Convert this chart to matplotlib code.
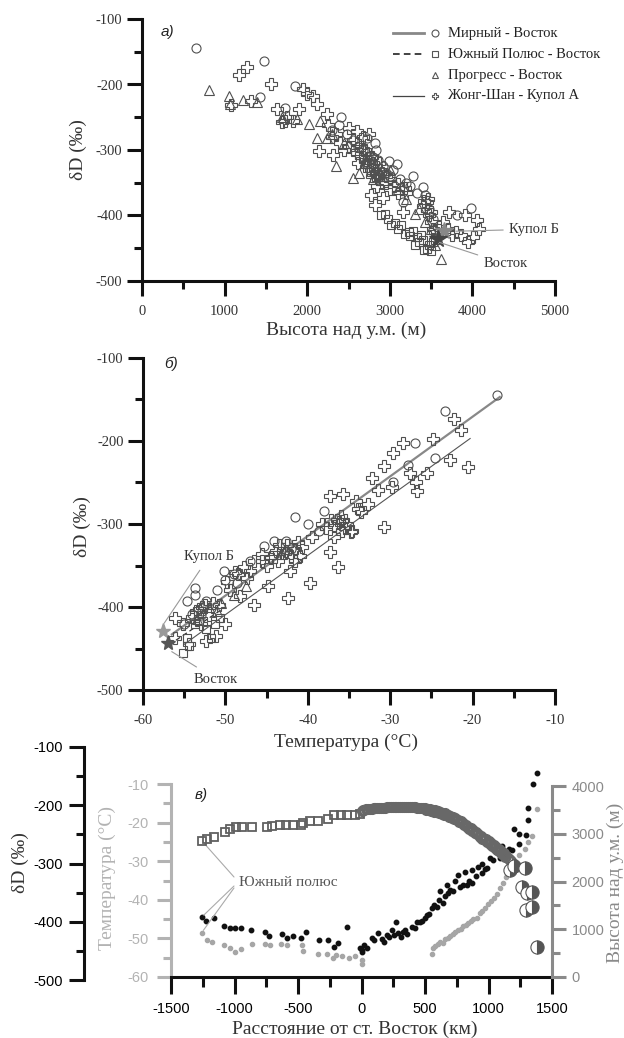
import matplotlib
matplotlib.use('Agg')
import matplotlib.pyplot as plt
from matplotlib.transforms import blended_transform_factory
from matplotlib.ticker import MultipleLocator

SERIF = ['Liberation Serif', 'DejaVu Serif']
SANS = ['Liberation Sans', 'DejaVu Sans']
plt.rcParams['font.family'] = SERIF
plt.rcParams['axes.unicode_minus'] = False

# ---------------- DATA ----------------
legend_labels = ['Мирный - Восток', 'Южный Полюс - Восток', 'Прогресс - Восток', 'Жонг-Шан - Купол А']

# panel a: altitude (m) vs dD
a_mirny_alt = [653, 1481, 1428, 1733, 1854, 2410, 2725, 2822, 2991, 3088, 3282, 3403, 3427, 3160, 3983, 3814,
               2480, 2550, 2620, 2680, 2740, 2790, 2860, 2920, 2960, 3040, 3120, 3200, 3250, 3330, 3470, 3520, 2300,
               2380, 2700, 2800, 2880, 2760, 2830, 3000]
a_mirny_dD = [-145, -164, -219, -236, -202, -249, -281, -290, -317, -322, -340, -356, -369, -379, -389, -400,
              -275, -285, -295, -300, -310, -320, -315, -325, -335, -330, -345, -350, -355, -365, -390, -405, -270,
              -262, -320, -310, -340, -330, -300, -340]
a_sp_alt = [2894, 2943, 3064, 3136, 3233, 3282, 3330, 3403, 3451, 3500, 3548, 3100, 3180, 3250, 3350, 3380, 3470,
            3420, 2980, 3020, 3300, 3520]
a_sp_dD = [-400, -397, -412, -415, -425, -423, -433, -438, -451, -454, -438, -420, -428, -432, -440, -430, -445,
           -452, -405, -415, -445, -440]
a_pr_alt = [813, 1055, 1224, 1394, 1878, 2023, 2120, 2241, 2352, 2555, 2628, 3306, 3621, 3427, 2150, 2300, 2450,
            2700, 2800, 2900, 3000, 3100, 3200, 3350, 3500, 3550, 1060, 1700]
a_pr_dD = [-208, -218, -224, -227, -253, -261, -281, -281, -325, -343, -335, -397, -466, -410, -255, -275, -290,
           -320, -345, -340, -330, -360, -375, -390, -420, -445, -230, -250]
a_zs_alt = [1273, 1176, 1079, 1321, 1563, 1636, 1902, 1733, 1830, 1950, 2000, 2072, 2120, 2241, 2144, 2313, 2507,
            2604, 2773, 2822, 2919, 3160, 3185, 3572, 3717, 3862, 4007, 4056, 3910, 4080, 2250, 2300, 2350, 2400,
            2450, 2500, 2550, 2600, 2650, 2700, 2720, 2750, 2780, 2800, 2830, 2860, 2880, 2900, 2950, 3000, 3050,
            3100, 3150, 3200, 3400, 3450, 3480, 3500, 3520, 3550, 3600, 3650, 3700, 3750, 3800, 3950, 3420, 3460,
            2680, 2750, 1750, 1700,
            2600, 2650, 2700, 2750, 2800, 2820, 2850, 2870, 2900, 2780, 2720, 2680, 2950, 3000, 2560, 2620, 2850,
            3100, 3450, 3500]
a_zs_dD = [-173, -186, -232, -225, -199, -237, -237, -255, -255, -207, -215, -217, -230, -245, -302, -307, -266,
           -271, -369, -384, -374, -394, -358, -430, -394, -430, -433, -407, -400, -420, -262, -280, -275, -290,
           -300, -295, -285, -305, -310, -300, -325, -330, -340, -320, -335, -345, -330, -350, -340, -345, -355,
           -352, -360, -365, -385, -392, -400, -410, -420, -425, -418, -410, -420, -430, -425, -440, -378, -375,
           -280, -275, -250, -258,
           -290, -295, -315, -318, -330, -325, -340, -320, -335, -310, -305, -300, -350, -360, -300, -320, -355,
           -365, -380, -395]
a_domeb = (3660, -424)
a_vostok = (3580, -436)

# panel b: temperature (°C) vs dD
b_mirny_T = [-17.0, -23.4, -27.0, -27.8, -24.6, -29.6, -38.0, -41.6, -42.7, -44.1, -45.3, -38.7, -50.2, -50.0,
             -53.7, -53.7, -48.6, -54.7, -52.3, -52.8, -54.0, -40.0, -42.0, -47.0, -49.0, -51.0, -55.0, -53.0]
b_mirny_dD = [-144, -164, -202, -229, -220, -250, -284, -291, -321, -320, -326, -308, -357, -367, -377, -385, -371,
              -393, -393, -405, -409, -300, -330, -345, -360, -380, -420, -410]
b_sp_T = [-55.2, -54.4, -53.7, -53.2, -52.3, -51.3, -51.8, -50.6, -54.7]
b_sp_dD = [-456, -447, -421, -417, -427, -421, -437, -413, -437]
b_pr_T = [-50.5, -52.0, -49.0, -53.5, -51.0, -47.5]
b_pr_dD = [-395, -400, -385, -415, -405, -375]
b_zs_T = [-22.2, -21.4, -24.8, -22.8, -20.6, -28.4, -29.6, -30.8, -32.2, -31.5, -27.6, -26.9, -25.5, -26.7, -29.8,
          -32.7, -33.9, -37.3, -35.7, -34.1, -30.8, -34.6, -35.8, -36.8, -36.3, -37.3, -35.8, -38.3, -39.5, -39.7,
          -42.4, -42.1, -40.7, -46.5, -44.8, -50.1, -56.1, -55.2, -56.1, -54.4, -52.3, -51.1, -48.2, -46.5, -45.5,
          -43.6, -41.6, -42.6, -47.0, -47.4, -49.4, -43.5, -42.8, -41.5, -40.9, -44.0, -36.5, -35.2, -34.8, -36.0,
          -37.8, -33.5, -48.5, -49.8, -51.5, -52.8, -53.6, -50.8, -53.0, -45.0,
          -43.0, -42.5, -43.8, -44.5, -42.0, -41.2, -45.5, -36.2, -35.5, -36.8, -37.2, -47.8, -48.8, -52.5, -53.2,
          -52.0, -54.0]
b_zs_dD = [-174, -187, -198, -223, -231, -203, -215, -230, -245, -259, -239, -249, -238, -260, -255, -276, -282,
           -266, -264, -272, -304, -308, -308, -316, -352, -334, -296, -300, -316, -371, -389, -357, -328, -397,
           -375, -421, -413, -421, -437, -445, -441, -435, -387, -344, -336, -344, -344, -332, -357, -365, -379,
           -325, -335, -330, -338, -340, -295, -300, -310, -290, -305, -285, -360, -370, -395, -400, -405, -398,
           -420, -350,
           -330, -325, -333, -340, -338, -322, -345, -298, -305, -302, -295, -352, -358, -398, -402, -410, -412]
b_fit_mirny_T = [-56.5, -16.7]
b_fit_mirny_dD = [-433, -147]
b_fit_sp_T = [-56.0, -50.0]
b_fit_sp_dD = [-440, -400]
b_fit_zs_T = [-55.0, -20.3]
b_fit_zs_dD = [-445, -197]
b_domeb = (-57.6, -429)
b_vostok = (-57.0, -443)

# panel c: distance from Vostok (km)
c_sp_dist = [-1258, -1214, -1161, -1075, -1035, -988, -944, -865, -747, -707, -642, -594, -537, -479, -463, -405,
             -340, -261, -217, -164, -112, -51, -12]
c_sp_alt = [2855, 2883, 2938, 3043, 3093, 3135, 3135, 3135, 3135, 3162, 3176, 3176, 3176, 3190, 3218, 3260, 3273,
            3302, 3386, 3386, 3386, 3386, 3413]
c_vm_dist = [0, 10, 20, 35, 50, 65, 80, 95, 110, 125, 140, 155, 170, 185, 200, 215, 230, 245, 260, 275, 290, 305,
             320, 335, 350, 365, 380, 395, 410, 425, 440, 455, 470, 485, 500, 520, 540, 560, 580, 600, 620, 640,
             660, 680, 700, 720, 740, 760, 780, 800, 820, 840, 860, 880, 900, 920, 940, 960, 980, 1000, 1020,
             1040, 1060, 1080, 1100, 1120, 1140, 1160, 1180,
             510, 530, 550, 570, 590, 610, 630, 650, 670, 690, 710, 730, 750, 770, 790, 810, 830, 850, 870, 890,
             910, 930, 950, 970, 990, 1010, 1030, 1050, 1070, 1090, 1110, 1130, 1150, 1170]
c_vm_alt = [3470, 3490, 3500, 3510, 3515, 3520, 3525, 3530, 3530, 3535, 3540, 3540, 3545, 3545, 3550, 3550, 3550,
            3555, 3555, 3555, 3560, 3560, 3560, 3560, 3560, 3555, 3555, 3555, 3550, 3550, 3545, 3540, 3540, 3535,
            3530, 3520, 3510, 3500, 3490, 3475, 3460, 3440, 3425, 3400, 3380, 3350, 3320, 3290, 3260, 3230, 3190,
            3150, 3110, 3080, 3040, 3000, 2960, 2920, 2880, 2840, 2800, 2760, 2720, 2680, 2640, 2590, 2540, 2480,
            2420,
            3500, 3490, 3470, 3460, 3450, 3430, 3420, 3400, 3390, 3360, 3340, 3310, 3280, 3250, 3220, 3180, 3140,
            3100, 3060, 3020, 2990, 2940, 2900, 2860, 2830, 2780, 2740, 2700, 2660, 2620, 2570, 2520, 2500, 2450]
c_coast_dist = [1169, 1200, 1287, 1261, 1301, 1340, 1295, 1340, 1379]
c_coast_alt = [2241, 2330, 2276, 1891, 1752, 1786, 1403, 1472, 635]
c_dD_dist = [-1258, -1224, -1161, -1080, -1035, -994, -951, -873, -760, -726, -628, -589, -542, -476, -437, -332,
             -261, -217, -183, -112, -10, 0,
             5, 20, 45, 83, 100, 130, 162, 180, 200, 220, 240, 256, 270, 290, 310, 330, 343, 360, 395, 420, 440,
             461, 480, 500, 513, 530, 553, 570, 592, 610, 619, 644, 660, 671, 684, 700, 723, 740, 762, 776, 800,
             815, 828, 850, 868, 868, 900, 920, 947, 947, 970, 991, 1010, 1038, 1060, 1091, 1110, 1130, 1160, 1183,
             1200, 1240, 1243, 1295, 1309, 1314, 1348, 1379]
c_dD = [-392, -399, -394, -408, -410, -410, -410, -414, -417, -424, -421, -428, -425, -428, -418, -431,
        -431, -444, -437, -409, -445, -452,
        -448, -440, -445, -428, -432, -420, -429, -434, -422, -426, -415, -423, -400, -420, -426, -418, -414, -421,
        -409, -411, -401, -400, -398, -393, -389, -386, -377, -372, -374, -362, -347, -367, -355, -337, -351, -345,
        -347, -330, -320, -340, -337, -314, -337, -330, -311, -334, -322, -306, -300, -316, -310, -307, -290, -294,
        -280, -290, -270, -283, -275, -277, -240, -249, -266, -251, -204, -225, -164, -144]
c_T_dist = [-1258, -1214, -1177, -1083, -1035, -996, -951, -865, -760, -720, -636, -584, -471, -458, -340, -270,
            -222, -201, -150, -100, -50, 0, 0,
            553, 565, 580, 600, 620, 639, 660, 680, 700, 723, 740, 760, 780, 802, 820, 840, 860, 880, 907, 930, 950,
            970, 999, 1020, 1040, 1065, 1090, 1117, 1135, 1156, 1180, 1209, 1240, 1288, 1310, 1340, 1384]
c_T = [-48.5, -50.4, -51.0, -51.6, -52.4, -53.4, -52.8, -51.4, -51.5, -51.8, -51.5, -51.8, -51.8, -53.2, -54.0,
       -54.1, -55.2, -54.3, -54.6, -55.0, -54.6, -55.5, -56.6,
       -54.1, -52.4, -52.0, -51.5, -51.0, -51.1, -50.2, -49.8, -49.5, -48.9, -48.3, -47.8, -47.5, -46.8, -46.5,
       -46.0, -45.5, -45.0, -44.6, -43.5, -42.8, -42.0, -41.2, -40.3, -39.5, -38.6, -37.0, -35.6, -34.0, -32.5,
       -31.0, -30.0, -28.5, -26.9, -25.0, -23.5, -16.6]

# ---------------- FIGURE ----------------
W, H = 624, 1038
fig = plt.figure(figsize=(W / 100, H / 100), dpi=100)


def px_axes(x0, y0, x1, y1):
    return fig.add_axes([x0 / W, 1 - y1 / H, (x1 - x0) / W, (y1 - y0) / H])


def ftext(x, y, s, **kw):
    fig.text(x / W, 1 - y / H, s, **kw)


MK = dict(ls='none', mfc='none', mec='#505050', mew=0.8, ms=6.5)


def style_ab(ax):
    for s in ['top', 'right']:
        ax.spines[s].set_visible(False)
    for s in ['left', 'bottom']:
        ax.spines[s].set_linewidth(2.2)
        ax.spines[s].set_color('#111111')
    ax.tick_params(which='major', length=11, width=2.2, direction='out', labelsize=10.5,
                   labelcolor='#333333', color='#111111')
    ax.tick_params(which='minor', length=6, width=2.2, direction='out', color='#111111')
    ax.tick_params(axis='x', which='major', pad=6)
    ax.tick_params(axis='y', which='major', pad=3)
    ax.yaxis.set_major_locator(MultipleLocator(100))
    ax.yaxis.set_minor_locator(MultipleLocator(50))
    ax.set_ylim(-500, -100)
    ax.patch.set_alpha(0)


# ---- panel a ----
ax1 = px_axes(142, 19, 555, 281)
style_ab(ax1)
ax1.set_xlim(0, 5000)
ax1.xaxis.set_major_locator(MultipleLocator(1000))
ax1.xaxis.set_minor_locator(MultipleLocator(500))
ax1.plot(a_pr_alt, a_pr_dD, marker='^', **MK)
ax1.plot(a_sp_alt, a_sp_dD, marker='s', **{**MK, 'ms': 6})
ax1.plot(a_mirny_alt, a_mirny_dD, marker='o', **MK)
ax1.plot(a_zs_alt, a_zs_dD, marker='P', **{**MK, 'ms': 8})
ax1.plot(*a_domeb, marker='*', ms=13, color='#888888', ls='none')
ax1.plot(*a_vostok, marker='*', ms=13, color='#444444', ls='none')
ax1.annotate('Купол Б', xy=(3800, -424), xytext=(4440, -421), fontsize=10.5, color='#333333', va='center',
             arrowprops=dict(arrowstyle='-', color='#999999', lw=0.8, shrinkA=2, shrinkB=0))
ax1.annotate('Восток', xy=(3600, -441), xytext=(4130, -474), fontsize=10.5, color='#333333', va='center',
             arrowprops=dict(arrowstyle='-', color='#999999', lw=0.8, shrinkA=2, shrinkB=0))

# manual legend
leg_rows = [33, 54, 75, 96]
leg_lines = [dict(color='#888888', lw=2.0, ls='-'), dict(color='#222222', lw=1.2, ls=(0, (4, 2.5))),
             None, dict(color='#444444', lw=0.9, ls='-')]
leg_marks = ['o', 's', '^', 'P']
for yy, lab, ln, mk in zip(leg_rows, legend_labels, leg_lines, leg_marks):
    yf = 1 - yy / H
    if ln is not None:
        fig.add_artist(plt.Line2D([393 / W, 424 / W], [yf, yf], transform=fig.transFigure, **ln))
    fig.add_artist(plt.Line2D([435 / W], [yf], transform=fig.transFigure, marker=mk, ms=5, mfc='none',
                              mec='#555555', mew=0.8, ls='none'))
    ftext(448, yy, lab, fontsize=10.5, va='center', ha='left', color='#222222')

ftext(161, 32, 'а)', fontsize=11, family=SANS, style='italic', va='center', color='#222222')
ftext(78, 150, 'δD (‰)', fontsize=14, rotation=90, va='center', ha='center', color='#333333')
ftext(346, 330, 'Высота над у.м. (м)', fontsize=14, va='center', ha='center', color='#333333')

# ---- panel b ----
ax2 = px_axes(143, 358, 555, 690)
style_ab(ax2)
ax2.set_xlim(-60, -10)
ax2.xaxis.set_major_locator(MultipleLocator(10))
ax2.xaxis.set_minor_locator(MultipleLocator(5))
ax2.plot(b_fit_mirny_T, b_fit_mirny_dD, color='#888888', lw=1.6)
ax2.plot(b_fit_zs_T, b_fit_zs_dD, color='#555555', lw=0.8)
ax2.plot(b_fit_sp_T, b_fit_sp_dD, color='#333333', lw=0.9, ls=(0, (4, 2.5)))
ax2.plot(b_pr_T, b_pr_dD, marker='^', **MK)
ax2.plot(b_sp_T, b_sp_dD, marker='s', **{**MK, 'ms': 6})
ax2.plot(b_mirny_T, b_mirny_dD, marker='o', **MK)
ax2.plot(b_zs_T, b_zs_dD, marker='P', **{**MK, 'ms': 8})
ax2.plot(*b_domeb, marker='*', ms=11, color='#999999', ls='none', clip_on=False)
ax2.plot(*b_vostok, marker='*', ms=11, color='#555555', ls='none', clip_on=False)
ax2.annotate('Купол Б', xy=(-57.8, -425), xytext=(-55.0, -339), fontsize=10.5, color='#333333', va='center',
             arrowprops=dict(arrowstyle='-', color='#999999', lw=0.8, shrinkA=4, shrinkB=4))
ax2.annotate('Восток', xy=(-56.8, -452), xytext=(-53.8, -487), fontsize=10.5, color='#333333', va='center',
             arrowprops=dict(arrowstyle='-', color='#999999', lw=0.8, shrinkA=4, shrinkB=2))
ftext(164, 364, 'б)', fontsize=11, family=SANS, style='italic', va='center', color='#222222')
ftext(82, 527, 'δD (‰)', fontsize=14, rotation=90, va='center', ha='center', color='#333333')
ftext(346, 742, 'Температура (°C)', fontsize=14, va='center', ha='center', color='#333333')

# ---- panel c ----
TGREY = '#b3b3b3'
AGREY = '#8a8a8a'
axdd = px_axes(84, 747, 552, 980)
axc = px_axes(171, 784, 552, 977)
axalt = axc.twinx()
axdd.set_zorder(0)
axc.set_zorder(1)
axalt.set_zorder(2)
for a in (axdd, axc, axalt):
    a.patch.set_alpha(0)

axdd.set_ylim(-500, -100)
for s in ['top', 'right', 'bottom']:
    axdd.spines[s].set_visible(False)
axdd.spines['left'].set_linewidth(2.2)
axdd.spines['left'].set_color('#111111')
axdd.set_xticks([])
axdd.yaxis.set_major_locator(MultipleLocator(100))
axdd.yaxis.set_minor_locator(MultipleLocator(50))
axdd.tick_params(axis='y', which='major', length=11, width=2.2, labelsize=10.5, pad=4, color='#111111')
axdd.tick_params(axis='y', which='minor', length=6, width=2.2, color='#111111')
for t in axdd.get_yticklabels():
    t.set_family(SANS)

axc.set_xlim(-1500, 1500)
axc.set_ylim(-60, -10)
axc.spines['top'].set_visible(False)
axc.spines['right'].set_visible(False)
axc.spines['left'].set_color(TGREY)
axc.spines['left'].set_linewidth(2.2)
axc.spines['bottom'].set_color('#111111')
axc.spines['bottom'].set_linewidth(2.2)
axc.xaxis.set_major_locator(MultipleLocator(500))
axc.xaxis.set_minor_locator(MultipleLocator(250))
axc.yaxis.set_major_locator(MultipleLocator(10))
axc.yaxis.set_minor_locator(MultipleLocator(5))
axc.tick_params(axis='x', which='major', length=12, width=2.2, labelsize=10.5, pad=6, color='#111111')
axc.tick_params(axis='x', which='minor', length=7, width=2.2, color='#111111')
axc.tick_params(axis='y', which='major', length=10, width=2.2, labelsize=10.5, pad=6, color=TGREY,
                labelcolor=TGREY)
axc.tick_params(axis='y', which='minor', length=6, width=2.2, color=TGREY)
for t in axc.get_xticklabels() + axc.get_yticklabels():
    t.set_family(SANS)

axalt.set_ylim(0, 4000 * 193 / 191)
for s in ['top', 'left', 'bottom']:
    axalt.spines[s].set_visible(False)
axalt.spines['right'].set_color(AGREY)
axalt.spines['right'].set_linewidth(2.2)
axalt.spines['right'].set_bounds(0, 4000)
axalt.yaxis.set_major_locator(MultipleLocator(1000))
axalt.yaxis.set_minor_locator(MultipleLocator(500))
axalt.tick_params(axis='y', which='major', length=10, width=2.2, labelsize=10.5, pad=4, color=AGREY,
                  labelcolor=AGREY)
axalt.tick_params(axis='y', which='minor', length=6, width=2.2, color=AGREY)
for t in axalt.get_yticklabels():
    t.set_family(SANS)

# data
axalt.plot(c_sp_dist, c_sp_alt, marker='s', ls='none', mfc='none', mec='#606060', mew=1.3, ms=5.2)
axalt.plot(c_vm_dist, c_vm_alt, marker='o', ls='none', mfc='none', mec='#686868', mew=1.5, ms=6.5)
axalt.plot(c_coast_dist, c_coast_alt, marker='o', ls='none', fillstyle='right', mfc='#555555',
           mfcalt='white', mec='#555555', mew=0.8, ms=9.5, clip_on=False)
axc.plot(c_T_dist, c_T, marker='o', ls='none', color='#a6a6a6', ms=3, clip_on=False)
trans_dd = blended_transform_factory(axc.transData, axdd.transData)
axc.plot(c_dD_dist, c_dD, marker='o', ls='none', color='#111111', ms=3.2, transform=trans_dd, clip_on=False)
axc.set_xlim(-1500, 1500)
axc.set_ylim(-60, -10)
axalt.set_ylim(0, 4000 * 193 / 191)

# annotation "Южный полюс"
axc.annotate('', xy=(c_sp_dist[0], c_sp_alt[0]), xycoords=axalt.transData,
             xytext=(234, H - 877), textcoords='figure pixels',
             arrowprops=dict(arrowstyle='-', color='#aaaaaa', lw=0.8, shrinkA=0, shrinkB=3))
axc.annotate('', xy=(c_dD_dist[0], c_dD[0]), xycoords=trans_dd,
             xytext=(234, H - 886), textcoords='figure pixels',
             arrowprops=dict(arrowstyle='-', color='#aaaaaa', lw=0.8, shrinkA=0, shrinkB=2))
axc.annotate('', xy=(c_T_dist[0], c_T[0]), xycoords='data',
             xytext=(234, H - 888), textcoords='figure pixels',
             arrowprops=dict(arrowstyle='-', color='#aaaaaa', lw=0.8, shrinkA=0, shrinkB=2))
ftext(239, 882, 'Южный полюс', fontsize=11, va='center', ha='left', color='#555555')

ftext(195, 795, 'в)', fontsize=11, family=SANS, style='italic', va='center', color='#222222')
ftext(20, 863, 'δD (‰)', fontsize=14, rotation=90, va='center', ha='center', color='#333333')
ftext(107, 878, 'Температура (°C)', fontsize=14, rotation=90, va='center', ha='center', color=TGREY)
ftext(615, 883, 'Высота над у.м. (м)', fontsize=14, rotation=90, va='center', ha='center', color=AGREY)
ftext(355, 1029, 'Расстояние от ст. Восток (км)', fontsize=14, va='center', ha='center', color='#333333')

fig.savefig('out.png', dpi=100)
